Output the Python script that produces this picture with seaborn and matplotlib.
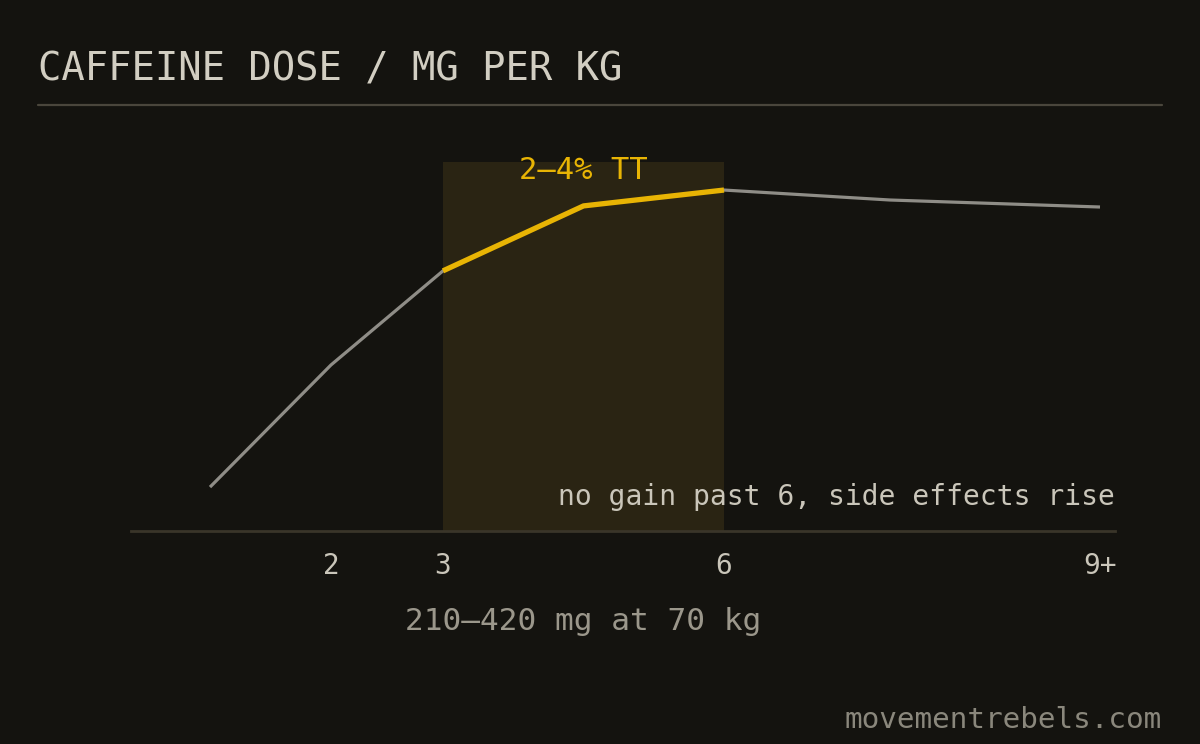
import numpy as np
import pandas as pd
import seaborn as sns
import matplotlib.pyplot as plt
from matplotlib.lines import Line2D
from matplotlib.transforms import blended_transform_factory

# caffeine dose (mg/kg) vs relative performance effect (schematic, 0-100)
dose = [1, 2, 3, 4.5, 6, 7.5, 9]
effect = [11.9, 45.0, 70.5, 88.1, 92.4, 89.7, 87.8]
sweet_lo, sweet_hi = 3, 6
tick_doses = [2, 3, 6, 9]
tick_labels = ["2", "3", "6", "9+"]

BG = "#14130f"
GREY = "#8f8d87"
GOLD = "#e8b404"
SPAN = "#2a2413"

sns.set_theme(style="white")
plt.rcParams["font.family"] = ["DejaVu Sans Mono", "DejaVu Sans"]

df = pd.DataFrame({"dose": dose, "effect": effect})
sweet = df[(df.dose >= sweet_lo) & (df.dose <= sweet_hi)]

fig = plt.figure(figsize=(12, 7.44), dpi=100, facecolor=BG)
W, H = 1200, 744
ax = fig.add_axes([131 / W, (H - 531) / H, (1115 - 131) / W, (531 - 162) / H])
ax.set_facecolor(BG)

# the dose axis is drawn schematic, not linear
knot_d = [0, 1, 2, 3, 6, 7.5, 9, 10]
knot_p = [89, 210, 331, 443, 724, 890, 1100, 1240]
fwd = lambda v: np.interp(v, knot_d, knot_p)
inv = lambda p: np.interp(p, knot_p, knot_d)
ax.set_xscale("function", functions=(fwd, inv))
ax.set_xlim(inv(131), inv(1115))
ax.set_ylim(0, 100)

ax.axvspan(sweet_lo, sweet_hi, color=SPAN, lw=0, zorder=0)
sns.lineplot(data=df, x="dose", y="effect", color=GREY, lw=2.3, ax=ax,
             solid_capstyle="butt", zorder=2)
sns.lineplot(data=sweet, x="dose", y="effect", color=GOLD, lw=3.8, ax=ax,
             solid_capstyle="butt", zorder=3)

for s in ["top", "left", "right"]:
    ax.spines[s].set_visible(False)
ax.spines["bottom"].set_color("#3a3529")
ax.spines["bottom"].set_linewidth(2)
ax.set_xticks(tick_doses)
ax.set_xticklabels(tick_labels)
ax.minorticks_off()
ax.set_yticks([])
ax.tick_params(axis="x", length=0, pad=15, labelsize=20, labelcolor="#cac6ba")
ax.set_xlabel("")
ax.set_ylabel("")

mid = (sweet_lo + sweet_hi) / 2
ax.text(mid, 97.6, "2–4% TT", color=GOLD, fontsize=22, ha="center", va="center")
trans = blended_transform_factory(ax.transData, ax.transAxes)
ax.text(mid, -0.244, "210–420 mg at 70 kg", color="#9b978b", fontsize=22.4,
        ha="center", va="center", transform=trans, clip_on=False)
ax.text(1.0, 0.092, "no gain past 6, side effects rise", color="#cac6ba",
        fontsize=20.2, ha="right", va="center", transform=ax.transAxes)

fig.text(38 / W, (H - 80) / H, "CAFFEINE DOSE / MG PER KG", color="#d2cec2",
         fontsize=28, ha="left", va="baseline")
fig.add_artist(Line2D([38 / W, 1162 / W], [(H - 105) / H] * 2,
                      transform=fig.transFigure, color="#4a463c", lw=1.6))
fig.text(1162 / W, (H - 728) / H, "movementrebels.com", color="#8a877c",
         fontsize=21.2, ha="right", va="baseline")

fig.savefig("out.png", dpi=100, facecolor=BG)
